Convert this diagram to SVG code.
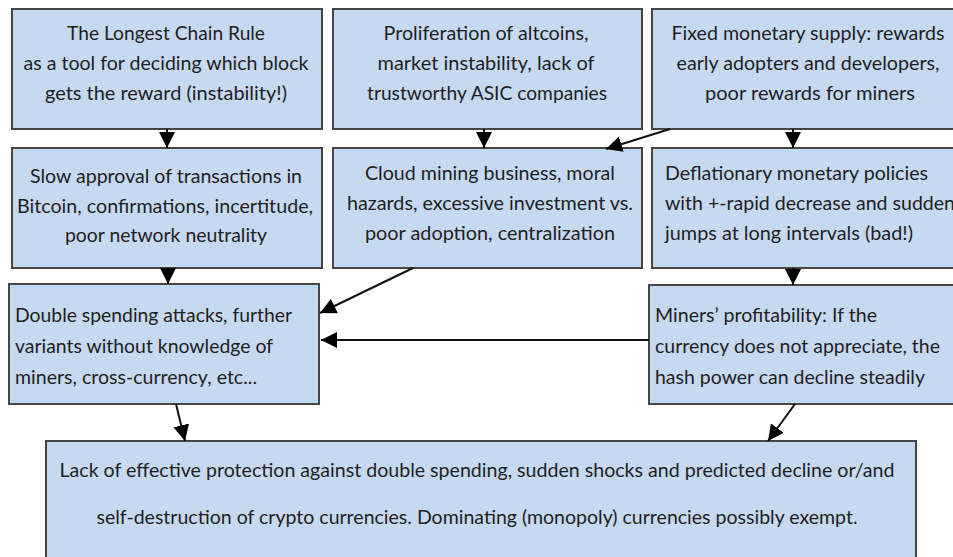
<svg xmlns="http://www.w3.org/2000/svg" width="953" height="557" viewBox="0 0 953 557">
<defs>
<style>
.box{fill:#c6d9f1;stroke:#454545;stroke-width:2}
.t{font-family:Lato,"Open Sans","Liberation Sans",sans-serif;font-size:19px;fill:#1e1e1e}
.c{text-anchor:middle}
.conn line{stroke:#111;stroke-width:2;marker-end:url(#ah)}
</style>
<marker id="ah" markerUnits="userSpaceOnUse" markerWidth="16" markerHeight="16" refX="16" refY="8" orient="auto">
<path d="M0,0 L16,8 L0,16 z" fill="#000"/>
</marker>
</defs>
<rect width="953" height="557" fill="#fff"/>
<g id="n1">
<rect class="box" x="12" y="9" width="310" height="120"/>
<text class="t c" x="166" y="40" textLength="198" lengthAdjust="spacingAndGlyphs">The Longest Chain Rule</text>
<text class="t c" x="166" y="70" textLength="285" lengthAdjust="spacingAndGlyphs">as a tool for deciding which block</text>
<text class="t c" x="166" y="100" textLength="242" lengthAdjust="spacingAndGlyphs">gets the reward (instability!)</text>
</g>
<g id="n2">
<rect class="box" x="333" y="9" width="309" height="120"/>
<text class="t c" x="486" y="40" textLength="205" lengthAdjust="spacingAndGlyphs">Proliferation of altcoins,</text>
<text class="t c" x="486" y="70" textLength="217" lengthAdjust="spacingAndGlyphs">market instability, lack of</text>
<text class="t c" x="487" y="100" textLength="240" lengthAdjust="spacingAndGlyphs">trustworthy ASIC companies</text>
</g>
<g id="n3">
<rect class="box" x="652" y="9" width="312" height="120"/>
<text class="t c" x="808" y="40" textLength="273" lengthAdjust="spacingAndGlyphs">Fixed monetary supply: rewards</text>
<text class="t c" x="808" y="70" textLength="263" lengthAdjust="spacingAndGlyphs">early adopters and developers,</text>
<text class="t c" x="810" y="100" textLength="210" lengthAdjust="spacingAndGlyphs">poor rewards for miners</text>
</g>
<g id="n4">
<rect class="box" x="12" y="148" width="310" height="120"/>
<text class="t c" x="166" y="183" textLength="272" lengthAdjust="spacingAndGlyphs">Slow approval of transactions in</text>
<text class="t c" x="165" y="213" textLength="296" lengthAdjust="spacingAndGlyphs">Bitcoin, confirmations, incertitude,</text>
<text class="t c" x="166" y="242" textLength="202" lengthAdjust="spacingAndGlyphs">poor network neutrality</text>
</g>
<g id="n5">
<rect class="box" x="333" y="148" width="309" height="120"/>
<text class="t c" x="490" y="180" textLength="250" lengthAdjust="spacingAndGlyphs">Cloud mining business, moral</text>
<text class="t c" x="490" y="210" textLength="286" lengthAdjust="spacingAndGlyphs">hazards, excessive investment vs.</text>
<text class="t c" x="490" y="240" textLength="250" lengthAdjust="spacingAndGlyphs">poor adoption, centralization</text>
</g>
<g id="n6">
<rect class="box" x="652" y="148" width="312" height="120"/>
<text class="t" x="665" y="180" textLength="263" lengthAdjust="spacingAndGlyphs">Deflationary monetary policies</text>
<text class="t" x="665" y="210" textLength="290" lengthAdjust="spacingAndGlyphs">with +-rapid decrease and sudden</text>
<text class="t" x="665" y="240" textLength="248" lengthAdjust="spacingAndGlyphs">jumps at long intervals (bad!)</text>
</g>
<g id="n7">
<rect class="box" x="9" y="284" width="310" height="120"/>
<text class="t" x="15" y="322" textLength="277" lengthAdjust="spacingAndGlyphs">Double spending  attacks, further</text>
<text class="t" x="15" y="353" textLength="258" lengthAdjust="spacingAndGlyphs">variants without  knowledge of</text>
<text class="t" x="15" y="384" textLength="242" lengthAdjust="spacingAndGlyphs">miners, cross-currency, etc...</text>
</g>
<g id="n8">
<rect class="box" x="649" y="285" width="315" height="119"/>
<text class="t" x="655" y="322" textLength="222" lengthAdjust="spacingAndGlyphs">Miners’ profitability: If the</text>
<text class="t" x="655" y="353" textLength="285" lengthAdjust="spacingAndGlyphs">currency does not  appreciate, the</text>
<text class="t" x="655" y="384" textLength="270" lengthAdjust="spacingAndGlyphs">hash power  can decline steadily</text>
</g>
<g id="n9">
<rect class="box" x="46" y="441" width="870" height="125"/>
<text class="t c" x="477" y="477" textLength="835" lengthAdjust="spacingAndGlyphs">Lack of effective protection against double spending, sudden shocks and predicted decline or/and</text>
<text class="t c" x="477" y="524" textLength="761" lengthAdjust="spacingAndGlyphs">self-destruction of crypto currencies. Dominating (monopoly) currencies possibly exempt.</text>
</g>
<g id="connectors" class="conn">
<line x1="167" y1="129" x2="167" y2="148"/>
<line x1="484" y1="129" x2="484" y2="148"/>
<line x1="793" y1="129" x2="793" y2="148"/>
<line x1="670" y1="129" x2="606" y2="149"/>
<line x1="168" y1="268" x2="168" y2="284"/>
<line x1="413" y1="268" x2="320" y2="313"/>
<line x1="649" y1="340" x2="321" y2="340"/>
<line x1="793" y1="268" x2="793" y2="285"/>
<line x1="176" y1="404" x2="185" y2="441"/>
<line x1="795" y1="404" x2="768" y2="441"/>
</g>
</svg>
